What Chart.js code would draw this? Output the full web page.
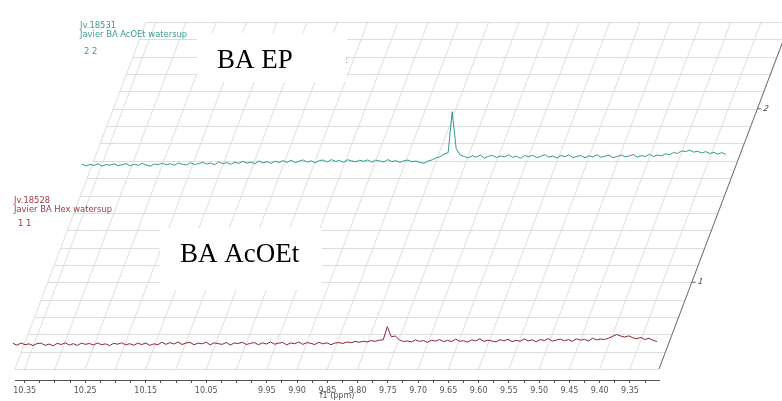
<!DOCTYPE html>
<html>
<head>
<meta charset="utf-8">
<script src="https://cdn.jsdelivr.net/npm/chart.js@4.4.0/dist/chart.umd.min.js"></script>
<style>
  body { margin: 0; background: #fff; }
</style>
</head>
<body>
<canvas id="nmr" width="782" height="401"></canvas>
<script>
// sampling of both spectra (ppm)
const ppmStart = 10.385;
const ppmStep = 0.00665;

// spectrum 1 (front, red) - intensity in 1/100 of a grid row
const hexIntensity = [
  4, -7, 6, -4, 1, -9, 3, 5, -8, 0,
  -10, 4, -3, 7, -6, 2, -8, 5, -2, 3,
  -6, 6, -4, 1, -9, 4, -1, 7, -5, 2,
  -7, 5, -3, 6, -8, 1, -4,
  10, -2, 8, 0, 12, -3, 6, 9, -4, 5,
  1, 11, -5, 7, 2, -2, 9, -6, 6, 3,
  10, -3, 4, 8, -4, 7, 0, 12, -1, 5,
  9, -5, 6, 2, 11, -2, 8, 4, -3, 10,
  1, 7, -4, 6,
  8, 3, 12, 7, 15, 10, 16, 12, 20, 15, 22,
  24, 100, 42, 46, 24, 14,
  18, 12, 24, 15, 20, 10, 22, 17, 26, 13,
  21, 14, 28, 16, 19, 11, 24, 18, 30, 15,
  22, 17, 12, 25, 19, 27, 14, 21, 16, 29,
  18, 24, 13, 26, 20, 31, 17, 23, 28, 19,
  25, 16, 30, 22, 27, 18, 33, 24, 29, 26,
  34, 44, 55, 46, 40, 47, 36,
  30, 38, 26, 33, 22, 14
];

// spectrum 2 (back, teal)
const acoetIntensity = [
  -14, -24, -16, -22, -12, -25, -17, -20, -13, -23,
  -18, -11, -24, -15, -21, -10, -19, -26, -14, -17,
  -9, -18, -12, -20, -8, -15, -19, -6, -16, -11,
  -4, -14, -8, -17, -2, -12, -6, -15, -3, -10,
  2, -9, -3, -12, 4, -7, 0, -10, 3, -5,
  6, -4, 8, -6, 3, 10, -3, 5, -7, 7,
  9, -2, 12, 1, 7, -4, 11, 5, -1, 8,
  2, 10, -3, 9, 4, -2, 12, 0, 6, -4,
  5, 9, -1, 4, -5,
  -9,
  4, 10, 22, 28, 44, 52,
  288, 75, 38, 30,
  22, 34, 26, 38, 20, 31, 36, 24, 33, 27,
  40, 25, 32, 19, 35, 29, 37, 23, 30, 41,
  26, 33, 21, 36, 28, 39, 24, 31, 35, 22,
  34, 27, 40, 25, 32, 37, 23, 30, 38, 28,
  33, 41, 26, 35, 30, 43, 29, 38, 34, 45,
  40, 52, 48, 62, 58, 67, 55, 60,
  50, 58, 47, 54, 44, 52, 42
];

const spectrumOffsets = [1.44, 11.95];
const depthTicks = [5, 15];
const depthLabels = ['1', '2'];
const tickLabels = ['10.35', '10.25', '10.15', '10.05', '9.95', '9.90', '9.85', '9.80',
  '9.75', '9.70', '9.65', '9.60', '9.55', '9.50', '9.45', '9.40', '9.35'];

const SKEW = 0.378;

function toPoints(values, offset) {
  return values.map((v, i) => ({ x: ppmStart - i * ppmStep, y: offset + v / 100 }));
}

function isMajor(value) {
  return Math.round(value * 1000) % 50 === 0;
}

// shift in px for a plane at depth value d
function depthShift(chart, d) {
  const y = chart.scales.y;
  return SKEW * (y.getPixelForValue(0) - y.getPixelForValue(d));
}

function line(ctx, x1, y1, x2, y2) {
  ctx.beginPath();
  ctx.moveTo(x1, y1);
  ctx.lineTo(x2, y2);
  ctx.stroke();
}

const stackPlugin = {
  id: "stack",
  beforeDatasetsDraw(chart) {
    const ctx = chart.ctx;
    const x = chart.scales.x;
    const y = chart.scales.y;
    const y0 = y.getPixelForValue(0);
    ctx.save();
    ctx.transform(1, 0, -SKEW, 1, SKEW * y0, 0);

    const yt = y.getPixelForValue(20);
    ctx.strokeStyle = "#dddddd";
    ctx.lineWidth = 1;
    y.ticks.forEach((t) => {
      const py = Math.round(y.getPixelForValue(t.value)) + 0.5;
      line(ctx, x.left, py, x.right, py);
    });
    x.ticks.forEach((t) => {
      if (!isMajor(t.value)) return;
      const px = x.getPixelForValue(t.value);
      line(ctx, px, y0, px, yt);
    });
    line(ctx, x.left, y0, x.left, yt);
    ctx.strokeStyle = "#666";
    line(ctx, x.right, y0, x.right, yt);

    // depth axis ticks on the right edge
    ctx.fillStyle = "#444";
    ctx.font = "8px 'DejaVu Sans'";
    ctx.textBaseline = "middle";
    depthTicks.forEach((d, i) => {
      const py = y.getPixelForValue(d);
      line(ctx, x.right, py, x.right + 4, py);
      ctx.fillText(depthLabels[i], x.right + 6, py);
    });
    ctx.restore();
  },
  beforeDatasetDraw(chart, args) {
    chart.ctx.save();
    chart.ctx.translate(depthShift(chart, spectrumOffsets[args.index]), 0);
  },
  afterDatasetDraw(chart) {
    chart.ctx.restore();
  },
  afterDatasetsDraw(chart) {
    const ctx = chart.ctx;
    ctx.save();
    ctx.textBaseline = "middle";
    ctx.font = "8.4px 'DejaVu Sans'";
    ctx.fillStyle = "#3c9c90";
    ctx.fillText("Jv.18531", 80, 26);
    ctx.fillText("Javier BA AcOEt watersup", 80, 34.5);
    ctx.fillText("2 2", 84, 52);
    ctx.fillStyle = "#9a3a46";
    ctx.fillText("Jv.18528", 14, 200.5);
    ctx.fillText("Javier BA Hex watersup", 14, 209.5);
    ctx.fillText("1 1", 18, 224);

    ctx.fillStyle = "#fff";
    ctx.fillRect(197, 33, 150, 49);
    ctx.fillRect(160, 228, 162, 62);
    ctx.fillStyle = "#000";
    ctx.textBaseline = "alphabetic";
    ctx.font = "27px 'Liberation Serif'";
    ctx.fillText("BA EP", 217, 68);
    ctx.fillText("BA AcOEt", 180, 262);
    ctx.fillStyle = "#888";
    ctx.font = "8px 'DejaVu Sans'";
    ctx.fillText(":", 345, 63);
    ctx.restore();
  },
};

new Chart(document.getElementById("nmr"), {
  type: "line",
  data: {
    datasets: [
      {
        label: "Javier BA Hex watersup",
        data: toPoints(hexIntensity, spectrumOffsets[0]),
        borderColor: "#8e2430",
        borderWidth: 1,
        pointRadius: 0,
        tension: 0,
        clip: false,
      },
      {
        label: "Javier BA AcOEt watersup",
        data: toPoints(acoetIntensity, spectrumOffsets[1]),
        borderColor: "#2f9a8e",
        borderWidth: 1,
        pointRadius: 0,
        tension: 0,
        clip: false,
      },
    ],
  },
  options: {
    responsive: false,
    animation: false,
    layout: { padding: { left: 15, right: 123, top: 22, bottom: 0 } },
    plugins: { legend: { display: false }, tooltip: { enabled: false } },
    scales: {
      x: {
        type: "linear",
        reverse: true,
        min: 9.302,
        max: 10.366,
        afterFit: (scale) => {
          scale.height = 21;
        },
        grid: { drawOnChartArea: false, drawTicks: true, tickLength: 3, color: "#555" },
        border: { display: true, color: "#555" },
        ticks: {
          stepSize: 0.025,
          maxTicksLimit: 100,
          includeBounds: false,
          autoSkip: false,
          maxRotation: 0,
          padding: 3,
          color: "#555",
          font: { family: "DejaVu Sans", size: 8 },
          callback: (value) => {
            const s = value.toFixed(2);
            return isMajor(value) && tickLabels.includes(s) ? s : "";
          },
        },
        title: {
          display: true,
          text: "f1 (ppm)",
          color: "#555",
          padding: 0,
          font: { family: "DejaVu Sans", size: 8 },
        },
      },
      y: {
        type: "linear",
        display: false,
        min: -0.634,
        max: 20,
        ticks: { stepSize: 1, includeBounds: false },
      },
    },
  },
  plugins: [stackPlugin],
});
</script>
</body>
</html>
